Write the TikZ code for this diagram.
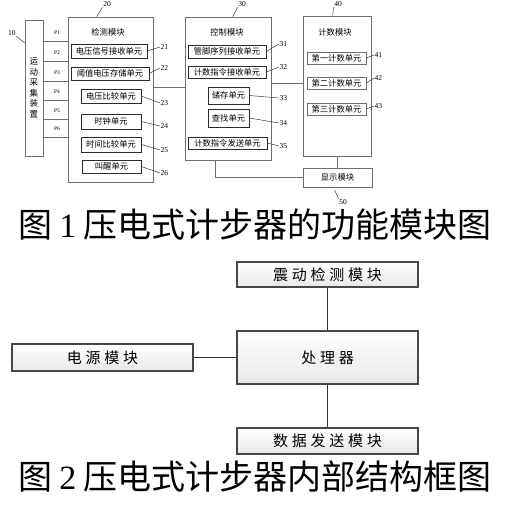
\documentclass[tikz,border=0pt]{standalone}
\usepackage{fontspec}
\setmainfont{Liberation Serif}
\newfontfamily\cjk{Noto Sans CJK SC}
\newfontfamily\cjkw[LetterSpace=25]{Noto Sans CJK SC}
\usetikzlibrary{calc,shadows}
\definecolor{pedink}{HTML}{2B2B2B}
\definecolor{pedline}{HTML}{6E6E6E}
\tikzset{
  modbox/.style={draw=pedline, line width=0.6pt, inner sep=0pt},
  unitbox/.style={draw=pedink, line width=0.5pt, inner sep=0pt, font=\cjk\fontsize{8.3}{9}\selectfont},
  tag/.style={inner sep=0.5pt, font=\fontsize{7.5}{8}\selectfont},
  lead/.style={draw=pedink, line width=0.45pt},
  wire/.style={draw=pedline, line width=0.6pt},
  blockbox/.style={draw=black!72, line width=1.1pt, inner sep=0pt, top color=white, bottom color=black!9,
    drop shadow={shadow xshift=0.9pt, shadow yshift=-0.9pt, fill=black!45, opacity=0.6},
    font=\cjkw\fontsize{15}{16}\selectfont},
  link/.style={draw=black!80, line width=1.2pt},
  caption/.style={inner sep=0pt, font=\fontsize{34}{35}\selectfont},
}
\begin{document}
\begin{tikzpicture}[x=1pt, y=-1pt]
  \useasboundingbox (0,0) rectangle (507,506);
  % figure 1: modules
  \node[modbox, minimum width=18, minimum height=136, align=center, font=\cjk\fontsize{8.5}{10.5}\selectfont] (sensor) at (34,88) {运\\动\\采\\集\\装\\置};
  \node[modbox, minimum width=85, minimum height=165] (det) at (110.5,99.5) {};
  \node[modbox, minimum width=86, minimum height=143] (ctl) at (228,88.5) {};
  \node[modbox, minimum width=68, minimum height=140] (cnt) at (337,86) {};
  \node[modbox, minimum width=69, minimum height=19, font=\cjk\fontsize{8.3}{9}\selectfont] (disp) at (337.5,177.5) {显示模块};
  \node[font=\cjk\fontsize{8.3}{9}\selectfont] (detT) at (108,32) {检测模块};
  \node[font=\cjk\fontsize{8.3}{9}\selectfont] (ctlT) at (227,32) {控制模块};
  \node[font=\cjk\fontsize{8.3}{9}\selectfont] (cntT) at (335,32) {计数模块};
  % units
  \node[unitbox, minimum width=76, minimum height=14] (u21) at (109,51) {电压信号接收单元};
  \node[unitbox, minimum width=78, minimum height=13] (u22) at (110,73.5) {阈值电压存储单元};
  \node[unitbox, minimum width=60, minimum height=14] (u23) at (111,96) {电压比较单元};
  \node[unitbox, minimum width=60, minimum height=15] (u24) at (111,121.5) {时钟单元};
  \node[unitbox, minimum width=60, minimum height=15] (u25) at (111,144.5) {时间比较单元};
  \node[unitbox, minimum width=59, minimum height=13] (u26) at (111.5,166.5) {叫醒单元};
  \node[unitbox, minimum width=78, minimum height=13] (u31) at (227,51.5) {管脚序列接收单元};
  \node[unitbox, minimum width=78, minimum height=12] (u32) at (227,72) {计数指令接收单元};
  \node[unitbox, minimum width=41, minimum height=17] (u33) at (228.5,95.5) {储存单元};
  \node[unitbox, minimum width=41, minimum height=18] (u34) at (228.5,118) {查找单元};
  \node[unitbox, minimum width=79, minimum height=12] (u35) at (227.5,143) {计数指令发送单元};
  \node[unitbox, draw=pedline, minimum width=59, minimum height=12] (u41) at (336.5,58) {第一计数单元};
  \node[unitbox, draw=pedline, minimum width=59, minimum height=12] (u42) at (336.5,83) {第二计数单元};
  \node[unitbox, draw=pedline, minimum width=59, minimum height=12] (u43) at (336.5,109) {第三计数单元};
  % reference numbers
  \node[tag] (n10) at (12,33) {10};
  \node[tag] (n20) at (107,4) {20};
  \node[tag] (n30) at (242,4) {30};
  \node[tag] (n40) at (338,4) {40};
  \node[tag] (n50) at (343,202) {50};
  \node[tag, anchor=west] (n21) at (160,47) {21};
  \node[tag, anchor=west] (n22) at (160,68) {22};
  \node[tag, anchor=west] (n23) at (160,103) {23};
  \node[tag, anchor=west] (n24) at (160,126) {24};
  \node[tag, anchor=west] (n25) at (160,150) {25};
  \node[tag, anchor=west] (n26) at (160,173) {26};
  \node[tag, anchor=west] (n31) at (279,44) {31};
  \node[tag, anchor=west] (n32) at (279,67) {32};
  \node[tag, anchor=west] (n33) at (279,98) {33};
  \node[tag, anchor=west] (n34) at (279,123) {34};
  \node[tag, anchor=west] (n35) at (279,146) {35};
  \node[tag, anchor=west] (n41) at (374,55) {41};
  \node[tag, anchor=west] (n42) at (374,78) {42};
  \node[tag, anchor=west] (n43) at (374,106) {43};
  \draw[lead] (n10.south east) -- (sensor.west |- 0,43);
  \draw[lead] (n20.south west) -- ($(det.north west)+(29,0)$);
  \draw[lead] (n30.south west) -- ($(ctl.north west)+(48,0)$);
  \draw[lead] (n40.south west) -- ($(cnt.north west)+(30,0)$);
  \draw[lead] ($(disp.south west)+(32,3)$) -- (n50.north west);
  \foreach \u/\n in {u21/n21,u22/n22,u23/n23,u24/n24,u25/n25,u26/n26,u31/n31,u32/n32,u33/n33,u34/n34,u35/n35,u41/n41,u42/n42,u43/n43}
    \draw[lead] (\u.east) -- (\n.west);
  % pins
  \foreach \i/\y in {1/41,2/61,3/81,4/100,5/119,6/137} {
    \draw[wire] (sensor.east |- 0,\y) -- (det.west |- 0,\y);
    \node[tag, font=\fontsize{5.5}{6}\selectfont] (p\i) at (57,\y-8) {P\i};
  }
  \draw[wire] (det.east |- 0,87) -- (ctl.west |- 0,87);
  \draw[wire] (ctl.east |- 0,83) -- (cnt.west |- 0,83);
  \draw[wire] (ctl.south -| 215,0) |- (disp.west);
  \draw[wire] (cnt.south -| disp.north) -- (disp.north);
  \node[caption] (cap1) at (255,225) {\cjk 图\hspace{0.22em}\rmfamily 1\hspace{0.22em}\cjk 压电式计步器的功能模块图};
  % figure 2: structure
  \node[blockbox, minimum width=181, minimum height=25] (vib) at (327.5,274.5) {震动检测模块};
  \node[blockbox, minimum width=181, minimum height=53] (cpu) at (327.5,357.5) {处理器};
  \node[blockbox, minimum width=181, minimum height=27] (pwr) at (102.5,357.5) {电源模块};
  \node[blockbox, minimum width=181, minimum height=26] (tx) at (327.5,441) {数据发送模块};
  \draw[link] (vib) -- (cpu);
  \draw[link] (pwr) -- (cpu);
  \draw[link] (cpu) -- (tx);
  \node[caption] (cap2) at (255,477) {\cjk 图\hspace{0.22em}\rmfamily 2\hspace{0.22em}\cjk 压电式计步器内部结构框图};
\end{tikzpicture}
\end{document}
